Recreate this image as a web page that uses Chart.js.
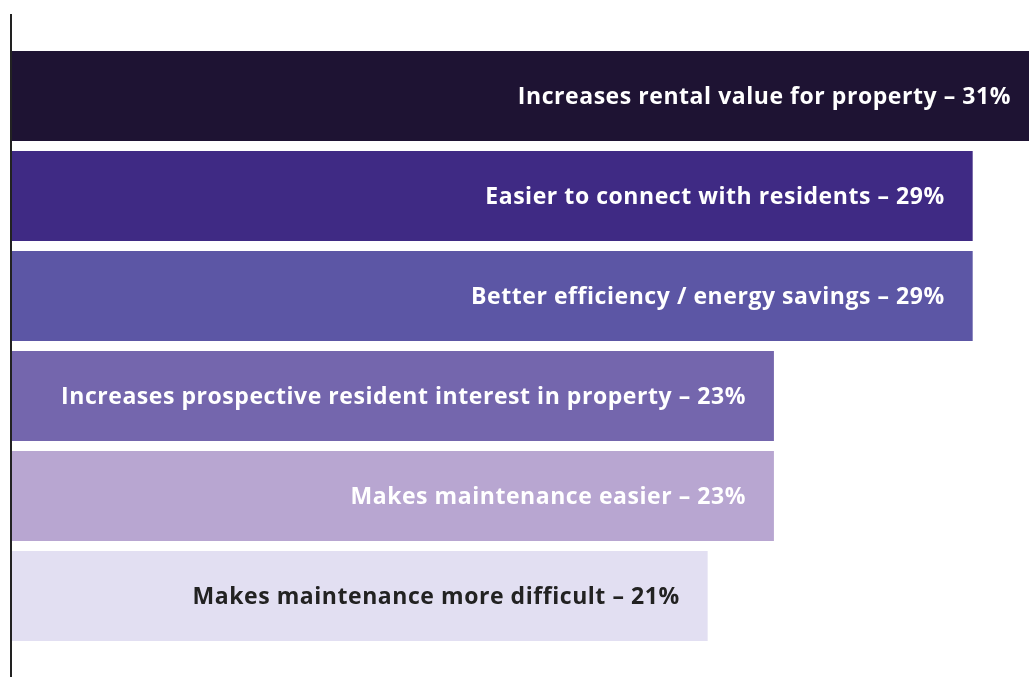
<!DOCTYPE html>
<html>
<head>
<meta charset="utf-8">
<script src="https://cdn.jsdelivr.net/npm/chart.js@4"></script>
<style>
  html, body { margin: 0; padding: 0; background: #fff; }
  #wrap { position: relative; width: 1029px; height: 677px; }
</style>
</head>
<body>
<div id="wrap"><canvas id="myChart"></canvas></div>
<script>
const categories = [
  "Increases rental value for property",
  "Easier to connect with residents",
  "Better efficiency / energy savings",
  "Increases prospective resident interest in property",
  "Makes maintenance easier",
  "Makes maintenance more difficult"
];
const values = [31, 29, 29, 23, 23, 21];
const barColors = ["#1e1333", "#3f2a84", "#5c56a5", "#7466ad", "#b8a6d1", "#e2dff2"];
const textColors = ["#ffffff", "#ffffff", "#ffffff", "#ffffff", "#ffffff", "#222222"];

// left axis line drawn taller than the bar area, as in the original
const axisLine = {
  id: "axisLine",
  afterDatasetsDraw(chart) {
    const { ctx, chartArea } = chart;
    ctx.save();
    ctx.strokeStyle = "#222222";
    ctx.lineWidth = 2;
    ctx.beginPath();
    ctx.moveTo(chartArea.left - 1, 14);
    ctx.lineTo(chartArea.left - 1, chart.height);
    ctx.stroke();
    ctx.restore();
  }
};

const barLabels = {
  id: "barLabels",
  afterDatasetsDraw(chart) {
    const { ctx } = chart;
    const meta = chart.getDatasetMeta(0);
    ctx.save();
    ctx.font = "bold 23px 'Open Sans', 'Noto Sans', sans-serif";
    ctx.letterSpacing = "0.55px";
    ctx.textAlign = "right";
    ctx.textBaseline = "middle";
    meta.data.forEach((bar, i) => {
      ctx.fillStyle = textColors[i];
      ctx.fillText(categories[i] + " \u2013 " + values[i] + "%", bar.x - 28, bar.y + 1);
    });
    ctx.restore();
  }
};

const ctx = document.getElementById("myChart").getContext("2d");
new Chart(ctx, {
  type: "bar",
  data: {
    labels: categories,
    datasets: [
      {
        data: values,
        backgroundColor: barColors,
        borderWidth: 0,
        categoryPercentage: 1,
        barPercentage: 0.9
      }
    ]
  },
  options: {
    indexAxis: "y",
    responsive: true,
    maintainAspectRatio: false,
    animation: false,
    layout: { padding: { left: 12, top: 46, bottom: 31, right: 0 } },
    scales: {
      x: { display: false, min: 0, max: 30.7 },
      y: { display: false }
    },
    plugins: {
      legend: { display: false },
      tooltip: { enabled: false }
    }
  },
  plugins: [axisLine, barLabels]
});
</script>
</body>
</html>
